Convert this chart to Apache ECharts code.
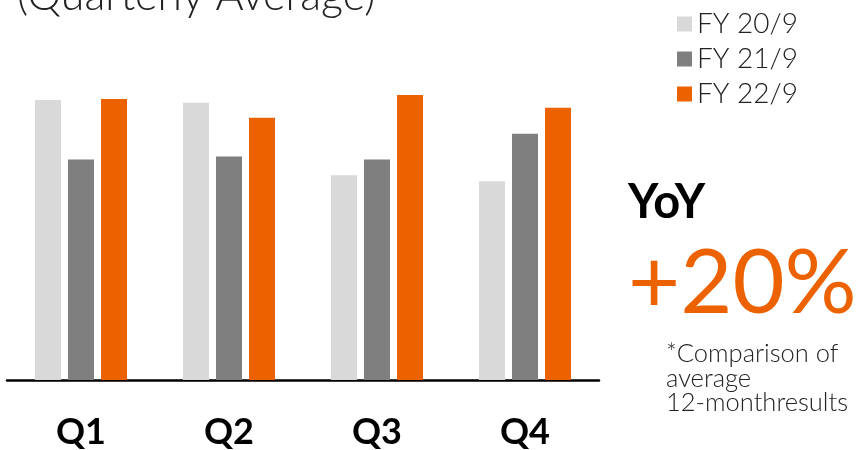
<!DOCTYPE html>
<html>
<head>
<meta charset="utf-8">
<script src="https://cdn.jsdelivr.net/npm/echarts@6/dist/echarts.min.js"></script>
<style>
  html, body { margin: 0; padding: 0; background: #ffffff; }
  #chart { width: 859px; height: 450px; }
</style>
</head>
<body>
<div id="chart"></div>
<script>
// Quarterly averages per fiscal year (relative index)
const quarters = ['Q1', 'Q2', 'Q3', 'Q4'];
const fy20 = [282, 279, 206, 200];
const fy21 = [222, 225, 222, 248];
const fy22 = [283, 264, 287, 274];
const seriesNames = ['FY 20/9', 'FY 21/9', 'FY 22/9'];
const yoyText = '+20%';

const colors = ['#d9d9d9', '#7f7f7f', '#ec6100'];
const thinFont = 'Lato';

const chart = echarts.init(document.getElementById('chart'), null, { renderer: 'canvas' });

const barStyle = (i) => ({
  name: seriesNames[i],
  type: 'bar',
  barWidth: 26,
  barGap: '27%',
  itemStyle: { color: colors[i] },
  emphasis: { disabled: true },
  data: [fy20, fy21, fy22][i]
});

chart.setOption({
  animation: false,
  backgroundColor: '#ffffff',
  grid: { left: 7, right: 260, top: 82, bottom: 66, containLabel: false },
  legend: {
    orient: 'vertical',
    left: 672,
    top: 5,
    icon: 'rect',
    itemWidth: 15,
    itemHeight: 15,
    itemGap: 7,
    selectedMode: false,
    textStyle: { fontFamily: thinFont, fontWeight: 300, fontSize: 28, lineHeight: 28, color: '#222222' },
    data: seriesNames
  },
  xAxis: {
    type: 'category',
    data: quarters,
    axisLine: { show: true, lineStyle: { color: '#000000', width: 2.5 } },
    axisTick: { show: false },
    axisLabel: { margin: 34, fontFamily: thinFont, fontWeight: 'bold', fontSize: 36, color: '#000000' }
  },
  yAxis: {
    type: 'value',
    min: 0,
    max: 300,
    show: false,
    splitLine: { show: false }
  },
  graphic: [
    {
      type: 'text',
      left: 17,
      top: -25,
      style: { text: '(Quarterly Average)', fontFamily: thinFont, fontWeight: 300, fontSize: 43, fill: '#222222' }
    },
    {
      type: 'text',
      left: 628,
      top: 179,
      style: { text: 'YoY', fontFamily: thinFont, fontWeight: 'bold', fontSize: 47, fill: '#000000' }
    },
    {
      type: 'text',
      left: 628,
      top: 239,
      style: { text: yoyText, fontFamily: thinFont, fontWeight: 'normal', fontSize: 90, fill: colors[2] }
    },
    {
      type: 'text',
      left: 666,
      top: 341,
      style: {
        text: '*Comparison of\naverage\n12-monthresults',
        fontFamily: thinFont, fontWeight: 300, fontSize: 25.5, lineHeight: 24.5, fill: '#222222'
      }
    }
  ],
  series: [barStyle(0), barStyle(1), barStyle(2)]
});
</script>
</body>
</html>
